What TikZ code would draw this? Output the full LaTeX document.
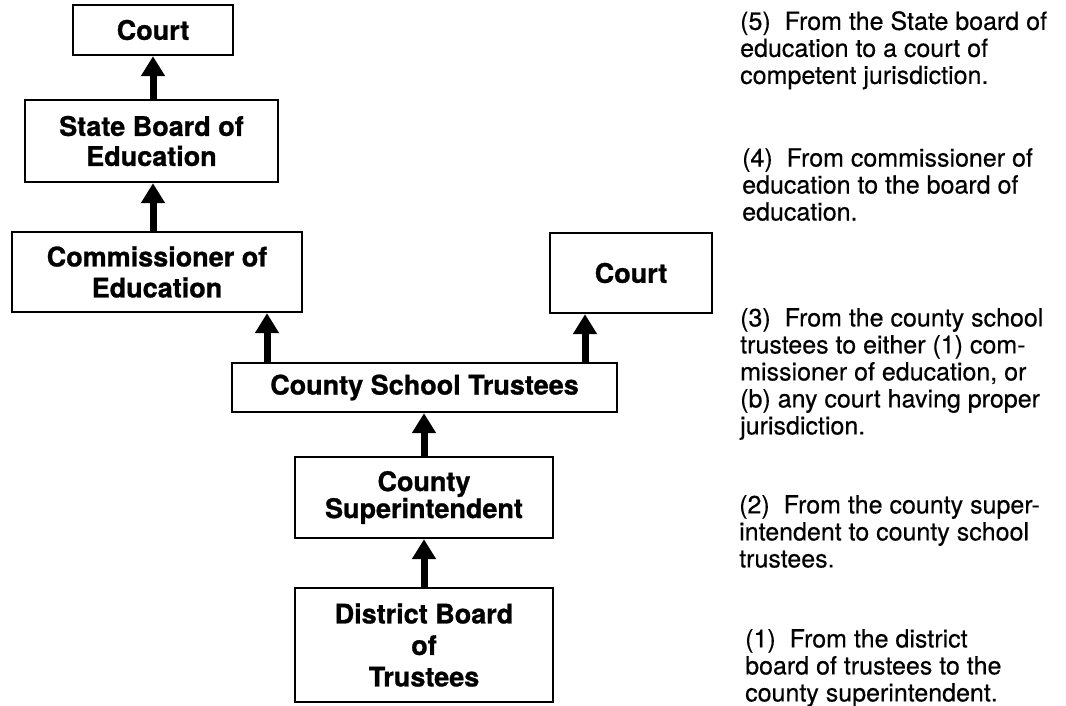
\documentclass[tikz,border=0pt]{standalone}
\usepackage{fontspec}
\setmainfont{TeX Gyre Heros}[UprightFeatures={FakeBold=0.4},BoldFeatures={FakeBold=0.9}]
\usetikzlibrary{arrows.meta}
\begin{document}
\begin{tikzpicture}[x=1pt,y=-1pt,
  box/.style={draw, line width=2.4pt, inner sep=0pt, align=center,
    font=\fontsize{27}{31}\selectfont\bfseries},
  up/.style={line width=7pt, -{Triangle[width=23pt,length=20pt]}},
  note/.style={anchor=north west, inner sep=0pt, align=left,
    font=\fontsize{25}{27}\selectfont}]
\useasboundingbox (0,0) rectangle (1066,705);
% boxes
\node[box, minimum width=160pt, minimum height=50pt] (court1) at (153,30) {Court};
\node[box, minimum width=253pt, minimum height=82pt, font=\fontsize{27}{30}\selectfont\bfseries] (state) at (151.5,141) {State Board of\\Education};
\node[box, minimum width=290pt, minimum height=80pt] (comm) at (157,272) {Commissioner of\\Education};
\node[box, minimum width=162pt, minimum height=80pt] (court2) at (631,273) {Court};
\node[box, minimum width=385pt, minimum height=49pt] (trust) at (424.5,387.5) {County School Trustees};
\node[box, minimum width=258pt, minimum height=81pt, font=\fontsize{27}{27}\selectfont\bfseries] (super) at (424,497.5) {County\\Superintendent};
\node[box, minimum width=258pt, minimum height=114pt, font=\fontsize{27}{31.5}\selectfont\bfseries] (dist) at (424,645) {District Board\\of\\Trustees};
% arrow columns
\coordinate (c1) at (153,0);
\coordinate (c2) at (267,0);
\coordinate (c3) at (585,0);
\coordinate (c4) at (424,0);
% arrows
\draw[up] (state.north -| c1) -- (court1.south -| c1);
\draw[up] (comm.north -| c1) -- (state.south -| c1);
\draw[up] (trust.north -| c2) -- (comm.south -| c2);
\draw[up] (trust.north -| c3) -- (court2.south -| c3);
\draw[up] (super.north -| c4) -- (trust.south -| c4);
\draw[up] (dist.north -| c4) -- (super.south -| c4);
% notes
\node[note] (n5) at (740,11) {(5)\ \ From the State board of\\education to a court of\\competent jurisdiction.};
\node[note] (n4) at (742,148) {(4)\ \ From commissioner of\\education to the board of\\education.};
\node[note] (n3) at (740,308) {(3)\ \ From the county school\\trustees to either (1) com-\\missioner of education, or\\(b) any court having proper\\jurisdiction.};
\node[note] (n2) at (739,495) {(2)\ \ From the county super-\\intendent to county school\\trustees.};
\node[note] (n1) at (745,629) {(1)\ \ From the district\\board of trustees to the\\county superintendent.};
\end{tikzpicture}
\end{document}
